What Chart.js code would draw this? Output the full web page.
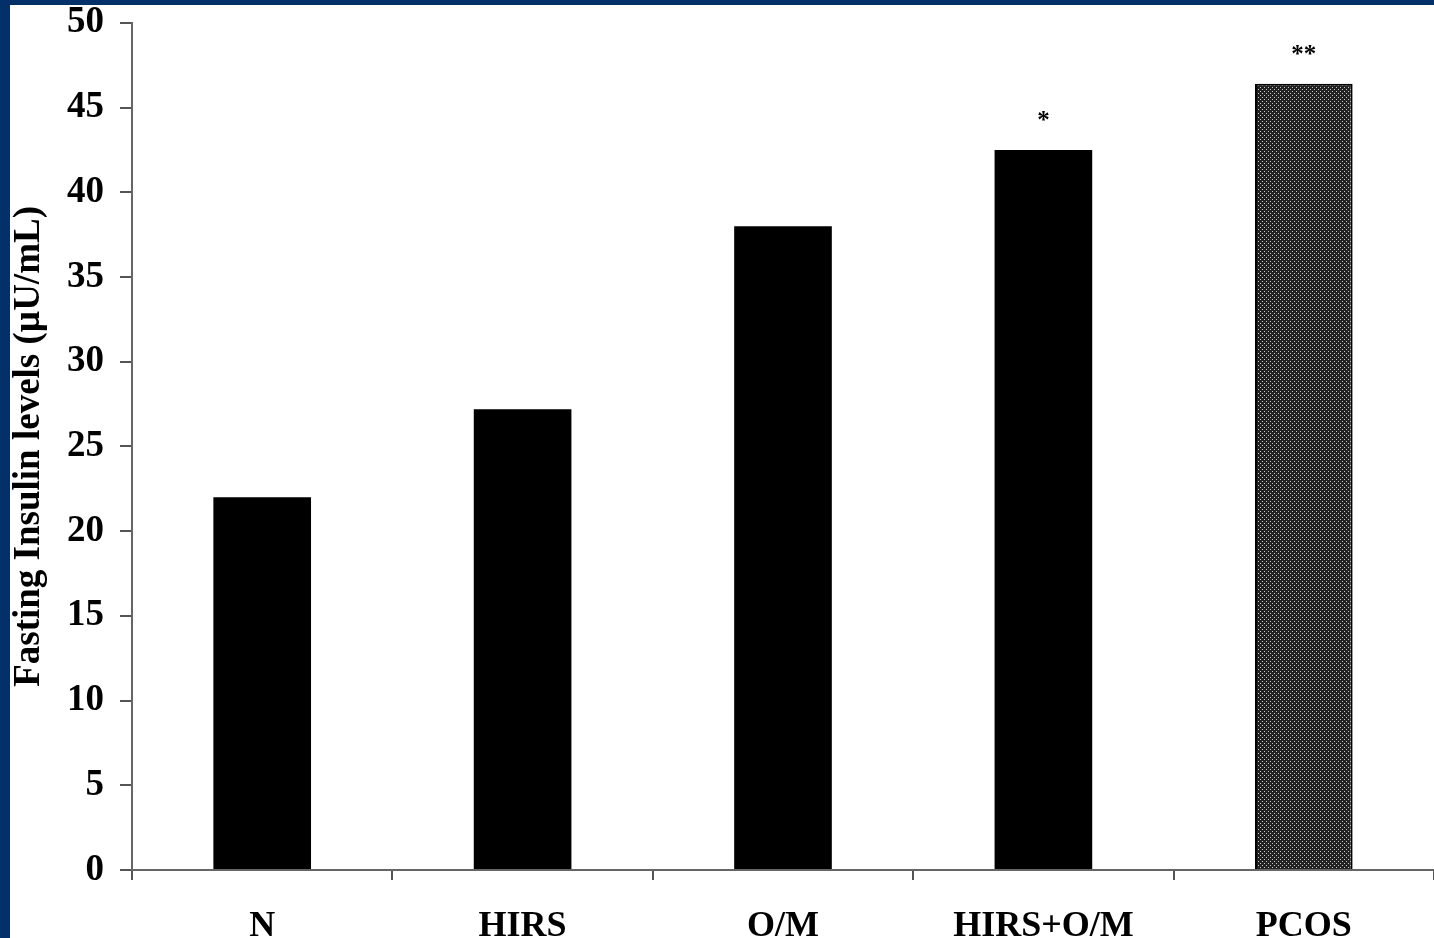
<!DOCTYPE html>
<html>
<head>
<meta charset="utf-8">
<script src="https://cdn.jsdelivr.net/npm/chart.js@4.4.1/dist/chart.umd.min.js"></script>
<style>
  html, body { margin: 0; padding: 0; background: #033068; width: 1434px; height: 938px; overflow: hidden; }
  #wrap { position: absolute; left: 10px; top: 5px; width: 1424px; height: 933px; background: #fff; }
</style>
</head>
<body>
<div id="wrap"><canvas id="c"></canvas></div>
<script>
const groups = ["N", "HIRS", "O/M", "HIRS+O/M", "PCOS"];
const insulin = [22, 27.2, 38, 42.5, 46.4];
const marks = ["", "", "", "*", "**"];
const yTicks = [0, 5, 10, 15, 20, 25, 30, 35, 40, 45, 50];

function dotPattern() {
  const p = document.createElement("canvas");
  p.width = 4; p.height = 4;
  const g = p.getContext("2d");
  g.fillStyle = "#222";
  g.fillRect(0, 0, 4, 4);
  g.fillStyle = "#c8c8c8";
  g.fillRect(0, 0, 1, 1);
  g.fillRect(2, 2, 1, 1);
  return g.createPattern(p, "repeat");
}

const serif = "'Liberation Serif', 'Times New Roman', serif";

const starPlugin = {
  id: "stars",
  afterDatasetsDraw(chart) {
    const ctx = chart.ctx;
    const meta = chart.getDatasetMeta(0);
    ctx.save();
    ctx.font = "bold 25px " + serif;
    ctx.fillStyle = "#000";
    ctx.textAlign = "center";
    ctx.textBaseline = "middle";
    meta.data.forEach((bar, i) => {
      if (!marks[i]) return;
      ctx.fillText(marks[i], bar.x, bar.y - 28);
    });
    ctx.restore();
  }
};

const pcos = dotPattern();

new Chart(document.getElementById("c"), {
  type: "bar",
  data: {
    labels: groups,
    datasets: [{
      data: insulin,
      backgroundColor: insulin.map((v, i) => i === 4 ? pcos : "#000"),
      borderColor: "#000",
      borderWidth: insulin.map((v, i) => i === 4 ? 2 : 0),
      categoryPercentage: 0.75,
      barPercentage: 0.5
    }]
  },
  options: {
    responsive: true,
    maintainAspectRatio: false,
    animation: false,
    layout: { padding: { top: 0, right: 0, left: 0, bottom: 0 } },
    plugins: {
      legend: { display: false },
      tooltip: { enabled: false }
    },
    scales: {
      x: {
        offset: true,
        grid: { display: true, drawOnChartArea: false, drawTicks: true, tickLength: 10, color: "#555", lineWidth: 2, offset: true },
        border: { display: true, color: "#666", width: 2 },
        ticks: { color: "#000", font: { family: serif, weight: "bold", size: 36 }, padding: 25, maxRotation: 0 },
        afterFit(scale) { scale.height = 68; }
      },
      y: {
        min: 0,
        max: 50,
        afterBuildTicks(scale) { scale.ticks = yTicks.map(v => ({ value: v })); },
        grid: { display: true, drawOnChartArea: false, drawTicks: true, tickLength: 12, color: "#555", lineWidth: 2 },
        border: { display: true, color: "#666", width: 2 },
        ticks: { color: "#000", font: { family: serif, weight: "bold", size: 37, lineHeight: 0.1 }, padding: 16 },
        title: {
          display: true,
          text: "Fasting Insulin levels (µU/mL)",
          color: "#000",
          font: { family: serif, weight: "bold", size: 37, lineHeight: 1.05 },
          padding: { top: 0, bottom: 0 }
        },
        afterFit(scale) { scale.width = 122; }
      }
    }
  },
  plugins: [starPlugin]
});
</script>
</body>
</html>
